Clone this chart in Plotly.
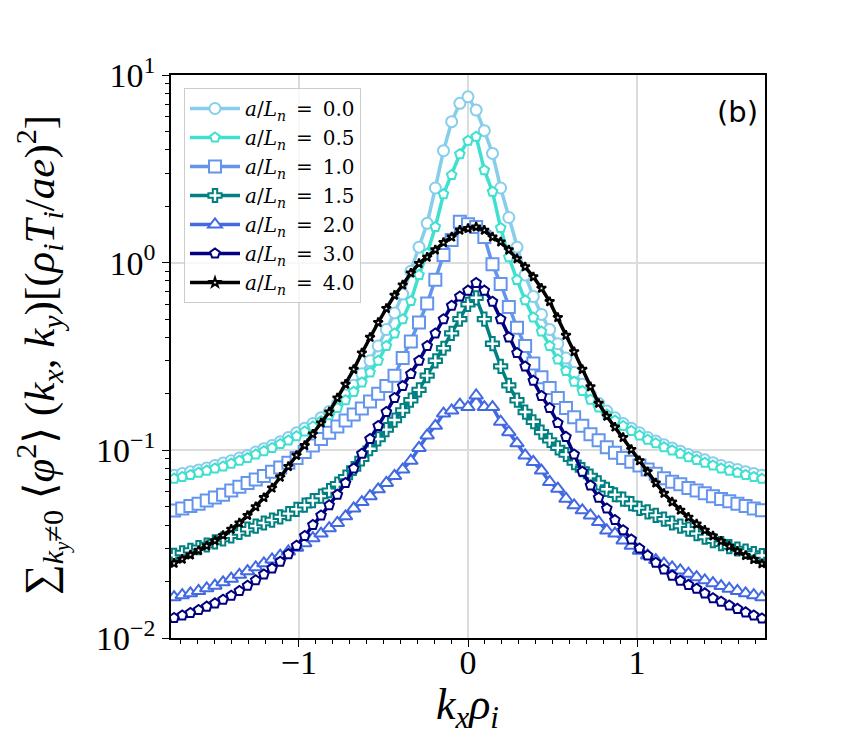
import plotly.graph_objects as go

# kx grid (index n times spacing)
N = list(range(-36, 37))
DK = 0.0483
kx = [n * DK for n in N]

labels = ["0.0", "0.5", "1.0", "1.5", "2.0", "3.0", "4.0"]

phi_00 = [0.0737, 0.0752, 0.0768, 0.0785, 0.0805, 0.083, 0.0855, 0.088, 0.091, 0.094, 0.098, 0.102,
          0.106, 0.111, 0.117, 0.124, 0.131, 0.139, 0.149, 0.161, 0.177, 0.197, 0.222, 0.256,
          0.30, 0.36, 0.44, 0.54, 0.68, 0.90, 1.21, 1.62, 2.5, 3.95, 5.64, 7.06,
          7.65,
          6.5, 5.05, 3.82, 2.5, 1.74, 1.21, 0.86, 0.66, 0.53, 0.44, 0.37, 0.31,
          0.26, 0.225, 0.198, 0.178, 0.162, 0.149, 0.139, 0.131, 0.124, 0.117, 0.112, 0.107,
          0.103, 0.099, 0.095, 0.092, 0.089, 0.086, 0.083, 0.081, 0.079, 0.077, 0.0753, 0.0737]

phi_05 = [0.0707, 0.0722, 0.074, 0.076, 0.078, 0.080, 0.082, 0.085, 0.088, 0.091, 0.095, 0.099,
          0.103, 0.108, 0.113, 0.119, 0.126, 0.134, 0.143, 0.154, 0.168, 0.185, 0.205, 0.23,
          0.26, 0.30, 0.36, 0.42, 0.50, 0.625, 0.86, 1.12, 1.55, 2.32, 2.93, 3.79,
          4.47,
          4.69, 3.11, 2.39, 1.53, 1.07, 0.81, 0.63, 0.51, 0.43, 0.36, 0.305, 0.265,
          0.232, 0.207, 0.186, 0.169, 0.155, 0.144, 0.135, 0.127, 0.120, 0.114, 0.109, 0.104,
          0.100, 0.096, 0.092, 0.089, 0.086, 0.083, 0.080, 0.078, 0.076, 0.074, 0.0722, 0.0705]

phi_10 = [0.0478, 0.049, 0.0505, 0.052, 0.054, 0.056, 0.058, 0.061, 0.064, 0.067, 0.070, 0.073,
          0.077, 0.081, 0.086, 0.091, 0.098, 0.106, 0.115, 0.124, 0.134, 0.144, 0.155, 0.167,
          0.182, 0.20, 0.22, 0.25, 0.31, 0.38, 0.48, 0.605, 0.81, 1.10, 1.32, 1.65,
          1.6,
          1.55, 1.37, 0.98, 0.77, 0.58, 0.45, 0.36, 0.29, 0.245, 0.215, 0.19, 0.168,
          0.150, 0.135, 0.122, 0.113, 0.104, 0.097, 0.091, 0.087, 0.083, 0.079, 0.075, 0.071,
          0.068, 0.066, 0.063, 0.061, 0.059, 0.057, 0.055, 0.0535, 0.052, 0.0505, 0.049, 0.048]

phi_15 = [0.0276, 0.0284, 0.0293, 0.0303, 0.0313, 0.0325, 0.0337, 0.035, 0.0365, 0.038, 0.0395, 0.041,
          0.0425, 0.0442, 0.046, 0.0485, 0.051, 0.054, 0.057, 0.061, 0.066, 0.072, 0.080, 0.09,
          0.102, 0.115, 0.129, 0.145, 0.163, 0.185, 0.21, 0.25, 0.30, 0.35, 0.42, 0.50,
          0.60,
          0.65, 0.50, 0.37, 0.28, 0.222, 0.185, 0.160, 0.142, 0.125, 0.113, 0.103, 0.095,
          0.086, 0.079, 0.073, 0.067, 0.062, 0.058, 0.055, 0.052, 0.049, 0.047, 0.045, 0.043,
          0.041, 0.0395, 0.038, 0.036, 0.0345, 0.033, 0.0318, 0.0307, 0.0298, 0.029, 0.0282, 0.0275]

phi_20 = [0.0165, 0.0169, 0.0173, 0.0178, 0.0184, 0.019, 0.0198, 0.0207, 0.0217, 0.0227, 0.0238, 0.025,
          0.0262, 0.0275, 0.0289, 0.0303, 0.032, 0.034, 0.036, 0.0385, 0.041, 0.0445, 0.049, 0.053,
          0.057, 0.062, 0.067, 0.073, 0.079, 0.088, 0.103, 0.12, 0.135, 0.157, 0.163, 0.175,
          0.17,
          0.196, 0.17, 0.17, 0.142, 0.125, 0.109, 0.094, 0.0867, 0.078, 0.0678, 0.0625, 0.0552,
          0.0509, 0.0479, 0.045, 0.0415, 0.0374, 0.036, 0.0331, 0.031, 0.0292, 0.0275, 0.026, 0.0249,
          0.0238, 0.0229, 0.022, 0.0211, 0.0203, 0.0196, 0.0189, 0.0183, 0.0178, 0.0173, 0.0169, 0.0165]

phi_30 = [0.0128, 0.0132, 0.0136, 0.0141, 0.0147, 0.0153, 0.016, 0.0168, 0.0178, 0.019, 0.0203, 0.0218,
          0.0235, 0.0255, 0.028, 0.031, 0.035, 0.040, 0.045, 0.051, 0.058, 0.067, 0.080, 0.096,
          0.115, 0.135, 0.16, 0.19, 0.22, 0.255, 0.30, 0.36, 0.42, 0.50, 0.59, 0.66,
          0.71,
          0.78, 0.71, 0.62, 0.50, 0.40, 0.33, 0.28, 0.235, 0.195, 0.168, 0.140, 0.118,
          0.095, 0.077, 0.065, 0.056, 0.049, 0.0425, 0.0375, 0.0335, 0.030, 0.0275, 0.0252, 0.0232,
          0.0215, 0.0202, 0.0192, 0.0183, 0.0173, 0.0163, 0.0156, 0.0149, 0.0143, 0.0137, 0.0132, 0.0127]

phi_40 = [0.025, 0.0263, 0.0277, 0.0293, 0.031, 0.033, 0.0352, 0.038, 0.041, 0.045, 0.050, 0.056,
          0.063, 0.072, 0.082, 0.094, 0.106, 0.122, 0.14, 0.160, 0.19, 0.225, 0.27, 0.33,
          0.40, 0.48, 0.57, 0.67, 0.76, 0.88, 0.99, 1.07, 1.17, 1.28, 1.37, 1.49,
          1.52,
          1.55, 1.49, 1.37, 1.29, 1.17, 1.05, 0.95, 0.84, 0.73, 0.62, 0.51, 0.41,
          0.335, 0.27, 0.218, 0.178, 0.152, 0.133, 0.117, 0.101, 0.088, 0.077, 0.067, 0.059,
          0.053, 0.048, 0.044, 0.0405, 0.0375, 0.035, 0.0328, 0.0308, 0.029, 0.0275, 0.0262, 0.0249]

series = [phi_00, phi_05, phi_10, phi_15, phi_20, phi_30, phi_40]
colors = ["#87CEEB", "#40E0D0", "#6495ED", "#008080", "#4169E1", "#000080", "#000000"]
symbols = ["circle", "pentagon", "square", "cross", "triangle-up", "pentagon", "star"]
msizes = [11, 10, 12, 11, 12, 10, 7]

SERIF = "Liberation Serif, DejaVu Serif, serif"
LSERIF = "DejaVu Serif, Liberation Serif, serif"

# page offset of the figure (body margin) is ~8 px; margins are in figure coordinates
L, R, T, B = 163, 93, 67, 120
PW, PH = 850 - L - R, 750 - T - B

fig = go.Figure()
for lab, ys, c, s, ms in zip(labels, series, colors, symbols, msizes):
    fig.add_trace(go.Scatter(
        x=kx, y=ys, mode="lines+markers",
        name=f"<i>a</i>/<i>L<sub>n</sub></i>\u2002=\u2002{lab}",
        line=dict(color=c, width=3.5),
        marker=dict(symbol=s, size=ms, color="white", line=dict(color=c, width=2)),
    ))

ytitle = ("\u2211<sub><i>k<sub>y</sub></i>\u22600</sub> \u27e8<i>\u03c6</i><sup>2</sup>\u27e9 "
          "(<i>k<sub>x</sub></i>, <i>k<sub>y</sub></i>)[(<i>\u03c1<sub>i</sub>T<sub>i</sub></i>/<i>ae</i>)<sup>2</sup>]")


def px(xf):
    return (xf - L) / PW


def py(yf):
    return (750 - B - yf) / PH


fig.update_layout(
    width=850, height=750,
    margin=dict(l=L, r=R, t=T, b=B, autoexpand=False),
    paper_bgcolor="white", plot_bgcolor="white",
    font=dict(family=SERIF, color="black"),
    showlegend=True,
    legend=dict(
        x=px(176), y=py(80), xanchor="left", yanchor="top",
        bgcolor="rgba(255,255,255,0.8)", bordercolor="#cccccc", borderwidth=1,
        font=dict(family=LSERIF, size=20), tracegroupgap=0, itemwidth=50,
    ),
    annotations=[
        dict(x=px(752), y=py(104), xref="paper", yref="paper", xanchor="right", yanchor="middle",
             text="(b)", showarrow=False, font=dict(family="DejaVu Sans, sans-serif", size=29)),
        dict(x=px(33), y=py(347), xref="paper", yref="paper", xanchor="center", yanchor="middle",
             text=ytitle, showarrow=False, textangle=-90, font=dict(size=43, family=SERIF)),
        dict(x=px(459), y=py(699), xref="paper", yref="paper", xanchor="center", yanchor="middle",
             text="<i>k<sub>x</sub>\u03c1<sub>i</sub></i>", showarrow=False,
             font=dict(size=44, family=SERIF)),
    ],
)

fig.update_xaxes(
    automargin=False,
    range=[-1.757, 1.757],
    tickvals=[-1, 0, 1], ticktext=["\u22121", "0", "1"],
    tickfont=dict(size=34, family=SERIF),
    ticks="outside", ticklen=7, tickwidth=1, tickcolor="black",
    ticklabelstandoff=-14,
    minor=dict(dtick=0.1, tick0=0, ticks="outside", ticklen=4, tickcolor="black", showgrid=False),
    showgrid=True, gridcolor="#dcdcdc", gridwidth=1.5,
    showline=True, linecolor="black", linewidth=1.5, mirror=True,
    zeroline=False,
)

fig.update_yaxes(
    automargin=False,
    type="log", range=[-2, 1],
    tickvals=[0.01, 0.1, 1, 10],
    ticktext=["10<sup>\u22122</sup>", "10<sup>\u22121</sup>", "10<sup>0</sup>", "10<sup>1</sup>"],
    tickfont=dict(size=34, family=SERIF),
    ticks="outside", ticklen=7, tickwidth=1, tickcolor="black",
    minor=dict(tickvals=[m * 10 ** e for e in (-2, -1, 0) for m in range(2, 10)],
               ticks="outside", ticklen=4, tickcolor="black", showgrid=False),
    showgrid=True, gridcolor="#dcdcdc", gridwidth=1.5,
    showline=True, linecolor="black", linewidth=1.5, mirror=True,
    zeroline=False,
)

fig.write_html("out.html")
